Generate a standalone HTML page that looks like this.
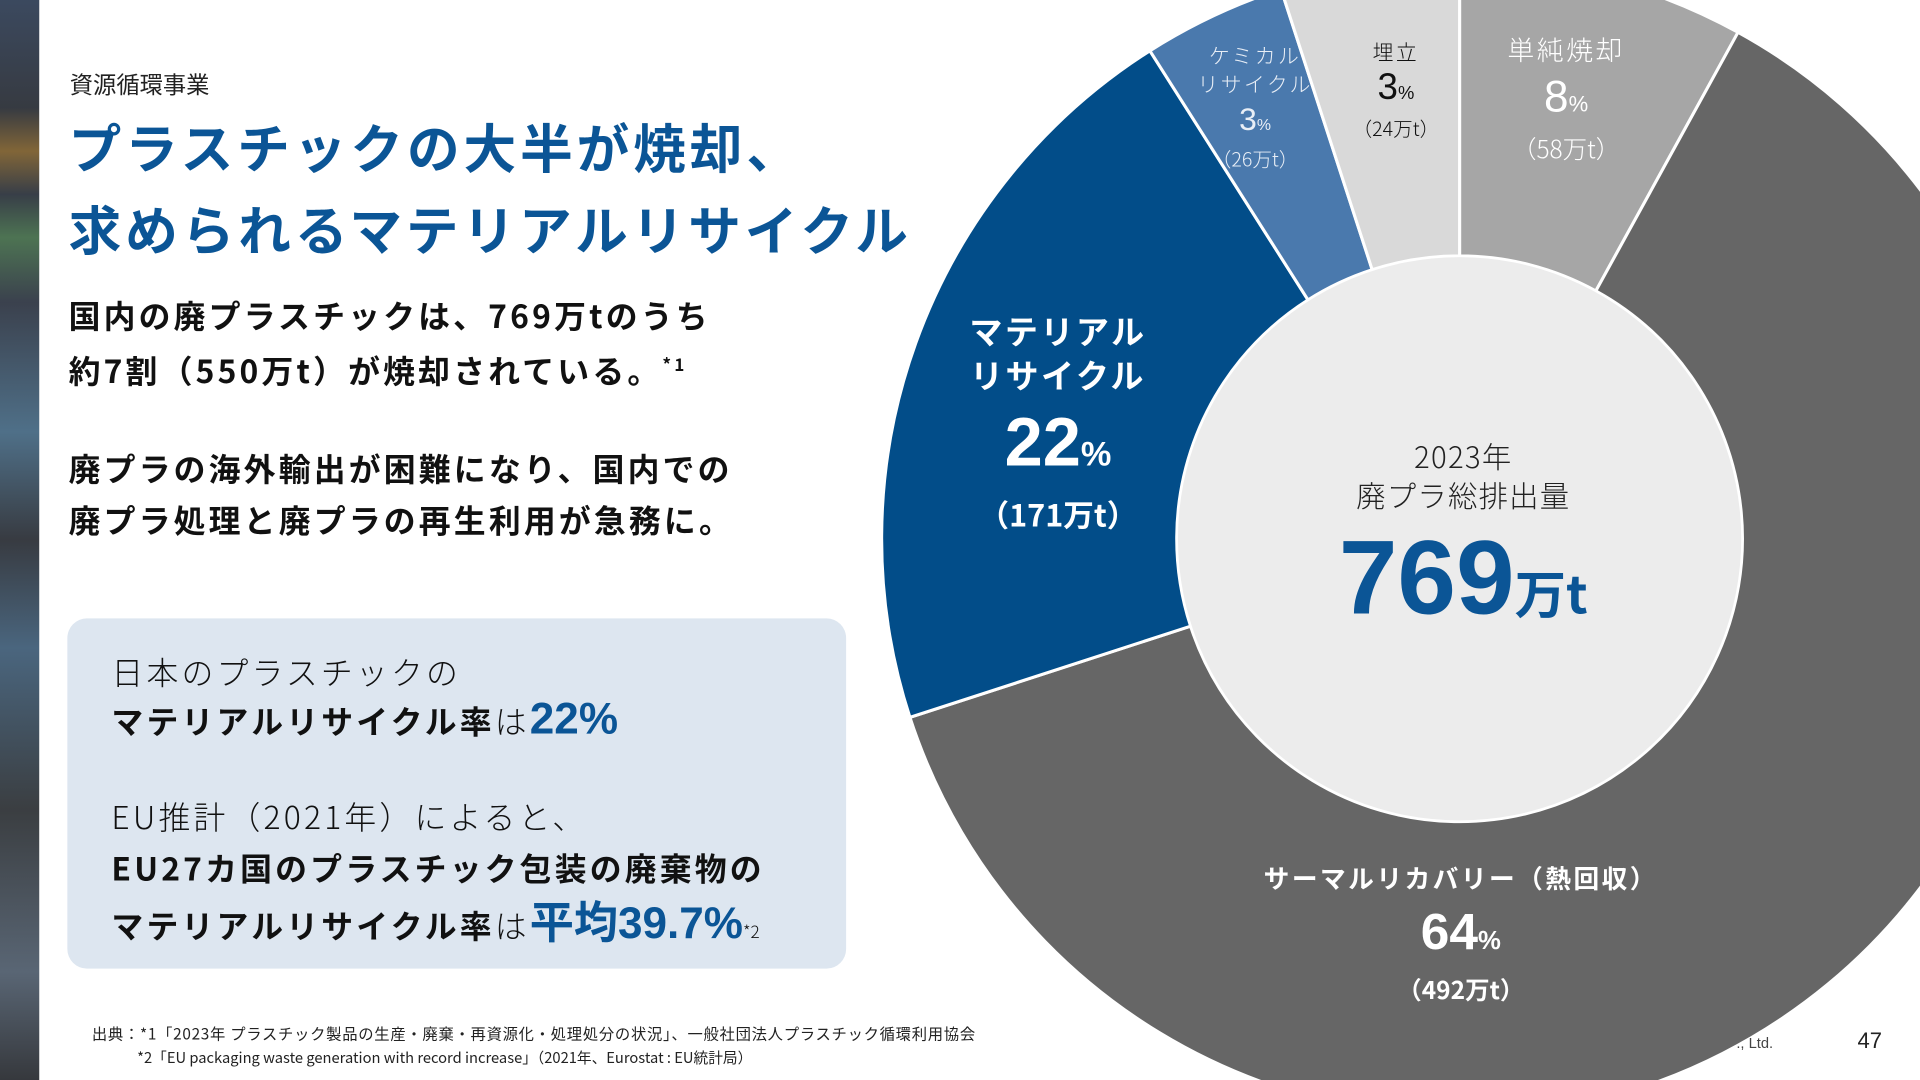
<!DOCTYPE html>
<html><head><meta charset="utf-8">
<style>
html,body{margin:0;padding:0;background:#fff;overflow:hidden;}
body{width:1920px;height:1080px;}
#s{position:absolute;left:0;top:0;width:1568px;height:882px;transform:scale(1.2244898);transform-origin:0 0;overflow:hidden;font-family:"Liberation Sans","Noto Sans CJK JP",sans-serif;color:#111;}
.a{position:absolute;white-space:nowrap;}
.jp{font-family:"Noto Sans CJK JP","Liberation Sans",sans-serif;}
.b{font-weight:700;}
.c{text-align:center;transform:translateX(-50%);}
</style></head><body>
<div id="s">
<div class="a" style="left:0;top:0;width:32px;height:882px;background:
linear-gradient(180deg,rgba(60,80,110,.6) 0%,rgba(40,40,40,.2) 10%,rgba(200,140,40,.5) 14%,rgba(50,60,70,.3) 18%,rgba(90,150,90,.6) 22%,rgba(60,70,90,.3) 28%,rgba(100,160,200,.5) 40%,rgba(50,50,50,.3) 50%,rgba(90,140,180,.5) 60%,rgba(60,60,50,.3) 75%,rgba(120,140,160,.5) 90%,rgba(50,50,50,.5) 100%),#3a3f48;"></div>

<svg class="a" style="left:0;top:0" width="1568" height="882" id="chart"></svg>

<div class="a jp" style="left:57px;top:55px;font-size:19px;color:#222;">資源循環事業</div>
<div class="a jp b" style="left:56px;top:86px;font-size:43px;line-height:67px;color:#0b5596;letter-spacing:3.2px;">プラスチックの大半が焼却、<br>求められるマテリアルリサイクル</div>
<div class="a jp b" style="left:56px;top:237px;font-size:26px;line-height:41px;letter-spacing:2.6px;">国内の廃プラスチックは、769万tのうち<br>約7割（550万t）が焼却されている。<sup style="font-size:14px">*1</sup></div>
<div class="a jp b" style="left:56px;top:362px;font-size:26px;line-height:42px;letter-spacing:2.6px;">廃プラの海外輸出が困難になり、国内での<br>廃プラ処理と廃プラの再生利用が急務に。</div>

<div class="a" style="left:55px;top:505px;width:636px;height:286px;background:#dde6f0;border-radius:16px;"></div>
<div class="a jp" style="left:91px;top:530px;font-size:26px;line-height:38px;letter-spacing:2.6px;font-weight:300;">日本のプラスチックの<br><span class="b">マテリアルリサイクル率</span>は<span class="b" style="color:#0b5596;font-size:36px;letter-spacing:0;font-family:'Liberation Sans',sans-serif;">22%</span></div>
<div class="a jp" style="left:91px;top:646px;font-size:26px;line-height:42px;letter-spacing:2.6px;font-weight:300;">EU推計（2021年）によると、<br><span class="b">EU27カ国のプラスチック包装の廃棄物の</span><br><span class="b">マテリアルリサイクル率</span>は<span class="b" style="color:#0b5596;font-size:36px;letter-spacing:0;">平均<span style="font-family:'Liberation Sans',sans-serif">39.7%</span></span><span style="font-size:14px;letter-spacing:0">*2</span></div>

<div class="a jp" style="left:75px;top:834px;font-size:12.5px;line-height:19px;color:#222;letter-spacing:0.6px;">出典：*1「2023年 プラスチック製品の生産・廃棄・再資源化・処理処分の状況」、一般社団法人プラスチック循環利用協会<br><span style="padding-left:37px;letter-spacing:0;font-size:12px">*2「EU packaging waste generation with record increase」（2021年、Eurostat : EU統計局）</span></div>
<div class="a" style="left:1418px;top:845px;font-size:12px;color:#444;">., Ltd.</div>
<div class="a" style="left:1517px;top:840px;font-size:18px;color:#222;">47</div>

<div id="labels"></div>
</div>
<script>
const categories=["単純焼却","サーマルリカバリー（熱回収）","マテリアルリサイクル","ケミカルリサイクル","埋立"];
const sliceShares=[8,62,21,4,5];
const tonnes=[58,492,171,26,24];
const percents=[8,64,22,3,3];
const totalLabel=769;
const colors=["#a6a6a6","#666666","#024d89","#4a79ad","#d9d9d9"];
const cx=1192,cy=440,R=472,r=231;
const svg=document.getElementById('chart');
const NS="http://www.w3.org/2000/svg";
const total=sliceShares.reduce((a,b)=>a+b,0);
function pt(ang,rad){return [cx+rad*Math.sin(ang),cy-rad*Math.cos(ang)];}
let acc=0;
sliceShares.forEach((v,i)=>{
  const a0=acc/total*2*Math.PI;acc+=v;const a1=acc/total*2*Math.PI;
  const large=(a1-a0)>Math.PI?1:0;
  const p0=pt(a0,R),p1=pt(a1,R),q1=pt(a1,r),q0=pt(a0,r);
  const p=document.createElementNS(NS,'path');
  p.setAttribute('d',`M${p0[0]},${p0[1]}A${R},${R} 0 ${large} 1 ${p1[0]},${p1[1]}L${q1[0]},${q1[1]}A${r},${r} 0 ${large} 0 ${q0[0]},${q0[1]}Z`);
  p.setAttribute('fill',colors[i]);p.setAttribute('stroke','#fff');p.setAttribute('stroke-width','2.5');
  
  
  svg.appendChild(p);
});
const c=document.createElementNS(NS,'circle');
c.setAttribute('cx',cx);c.setAttribute('cy',cy);c.setAttribute('r',r-1);c.setAttribute('fill','#ececec');


svg.appendChild(c);

const L=document.getElementById('labels');
const defs=[
 {x:1279,y:24,name:"単純焼却",ns:22,ps:36,ts:20,col:"#fff",bold:false,lh:32,plh:46,tlh:26},
 {x:1193,y:702,name:"サーマルリカバリー（熱回収）",ns:21,ps:42,ts:20,col:"#fff",bold:true,lh:30,plh:58,tlh:20},
 {x:864,y:252,name:"マテリアル<br>リサイクル",ns:27,ps:56,ts:25,col:"#fff",bold:true,lh:36,plh:74,tlh:24},
 {x:1025,y:33,name:"ケミカル<br>リサイクル",ns:17,ps:26,ts:16,col:"#e8eef6",bold:false,lh:23,plh:36,tlh:18},
 {x:1140,y:30,name:"埋立",ns:17,ps:30,ts:16,col:"#111",bold:false,lh:24,plh:36,tlh:18}
];
defs.forEach((d,i)=>{
  const el=document.createElement('div');
  el.className='a c jp';
  
  
  el.style.left=d.x+'px';el.style.top=d.y+'px';el.style.color=d.col;
  const fw=d.bold?700:300;
  el.innerHTML=`<div style="font-size:${d.ns}px;line-height:${d.lh}px;font-weight:${fw};letter-spacing:2px">${d.name}</div>`+
   `<div style="font-size:${d.ps}px;line-height:${d.plh}px;font-weight:${d.bold?700:400};font-family:'Liberation Sans',sans-serif">${percents[i]}<span style="font-size:${Math.round(d.ps*0.5)}px">%</span></div>`+
   `<div style="font-size:${d.ts}px;line-height:${d.tlh}px;font-weight:${fw}">（${tonnes[i]}万t）</div>`;
  L.appendChild(el);
});
const ct=document.createElement('div');
ct.className='a c jp';


ct.style.left=(cx+3)+'px';ct.style.top='356px';ct.style.color='#222';
ct.innerHTML=`<div style="font-size:24px;line-height:32px;font-weight:300;letter-spacing:1px">2023年<br>廃プラ総排出量</div><div style="color:#0b5596;font-weight:700;line-height:104px;font-family:'Liberation Sans',sans-serif;font-size:86px">${totalLabel}<span class="jp" style="font-size:42px">万t</span></div>`;
L.appendChild(ct);
</script>
</body></html>
